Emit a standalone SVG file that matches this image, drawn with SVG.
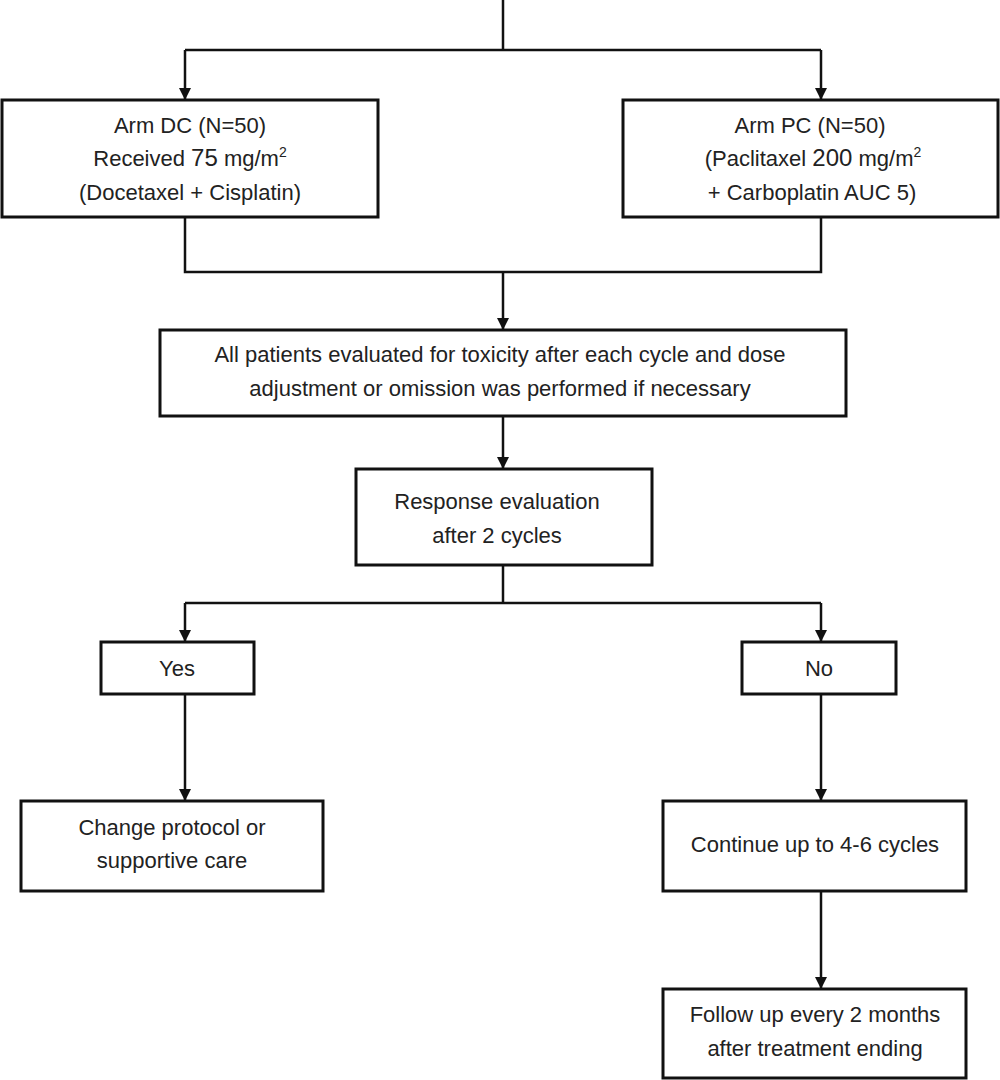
<svg xmlns="http://www.w3.org/2000/svg" width="1000" height="1080" viewBox="0 0 1000 1080">
<style>
.box{fill:#fff;stroke:#111;stroke-width:3}
.t{font-family:"Liberation Sans",Arial,sans-serif;font-size:22px;fill:#222;text-anchor:middle}
.c{fill:none;stroke:#111;stroke-width:2.5}
</style>
<defs>
<marker id="ah" markerUnits="userSpaceOnUse" markerWidth="12" markerHeight="12" refX="11" refY="6" orient="auto">
<path d="M0,0 L12,6 L0,12 z" fill="#111"/>
</marker>
</defs>
<rect width="1000" height="1080" fill="#fff"/>
<g id="connectors">
<path class="c" d="M503,0 V50"/>
<path class="c" d="M185,50 H821"/>
<path class="c" d="M185,50 V99" marker-end="url(#ah)"/>
<path class="c" d="M821,50 V99" marker-end="url(#ah)"/>
<path class="c" d="M185,217 V272 H821 V217"/>
<path class="c" d="M503,272 V329" marker-end="url(#ah)"/>
<path class="c" d="M503,416 V468" marker-end="url(#ah)"/>
<path class="c" d="M503,565 V603"/>
<path class="c" d="M185,603 H821"/>
<path class="c" d="M185,603 V641" marker-end="url(#ah)"/>
<path class="c" d="M821,603 V641" marker-end="url(#ah)"/>
<path class="c" d="M185,694 V800" marker-end="url(#ah)"/>
<path class="c" d="M821,694 V800" marker-end="url(#ah)"/>
<path class="c" d="M821,891 V988" marker-end="url(#ah)"/>
</g>
<g id="armDC">
<rect class="box" x="2" y="100" width="376" height="117"/>
<text class="t" x="190" y="133">Arm DC (N=50)</text>
<text class="t" x="190" y="166">Received <tspan font-size="24">75</tspan> mg/m<tspan font-size="14" dy="-9">2</tspan></text>
<text class="t" x="190" y="200">(Docetaxel + Cisplatin)</text>
</g>
<g id="armPC">
<rect class="box" x="623" y="100" width="375" height="117"/>
<text class="t" x="810" y="133">Arm PC (N=50)</text>
<text class="t" x="813" y="166">(Paclitaxel <tspan font-size="24">200</tspan> mg/m<tspan font-size="14" dy="-9">2</tspan></text>
<text class="t" x="812" y="200">+ Carboplatin AUC 5)</text>
</g>
<g id="toxicity">
<rect class="box" x="160" y="330" width="686" height="86"/>
<text class="t" x="500" y="362">All patients evaluated for toxicity after each cycle and dose</text>
<text class="t" x="500" y="396">adjustment or omission was performed if necessary</text>
</g>
<g id="response">
<rect class="box" x="356" y="469" width="296" height="96"/>
<text class="t" x="497" y="509">Response evaluation</text>
<text class="t" x="497" y="543">after 2 cycles</text>
</g>
<g id="yes">
<rect class="box" x="101" y="642" width="153" height="52"/>
<text class="t" x="177" y="676">Yes</text>
</g>
<g id="no">
<rect class="box" x="742" y="642" width="154" height="52"/>
<text class="t" x="819" y="676">No</text>
</g>
<g id="change">
<rect class="box" x="21" y="801" width="302" height="90"/>
<text class="t" x="172" y="835">Change protocol or</text>
<text class="t" x="172" y="868">supportive care</text>
</g>
<g id="continue">
<rect class="box" x="663" y="801" width="303" height="90"/>
<text class="t" x="815" y="852">Continue up to 4-6 cycles</text>
</g>
<g id="follow">
<rect class="box" x="663" y="989" width="303" height="89"/>
<text class="t" x="815" y="1022">Follow up every 2 months</text>
<text class="t" x="815" y="1056">after treatment ending</text>
</g>
</svg>
